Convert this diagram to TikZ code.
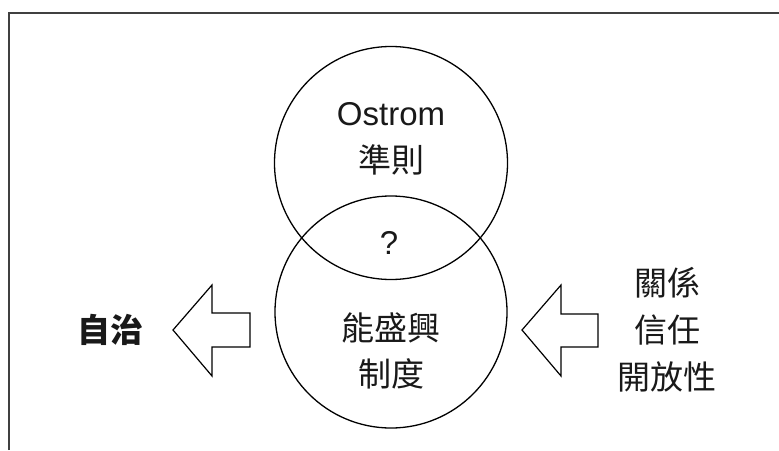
\documentclass[tikz,border=0pt]{standalone}
\usepackage{fontspec}
\setmainfont{Liberation Sans}
\newfontfamily\cjk{Noto Sans CJK TC}
\begin{document}
\begin{tikzpicture}[x=1pt,y=-1pt,
  lbl/.style={font=\fontsize{33}{46}\selectfont\cjk, align=center, inner sep=0pt, text=black!90},
  latin/.style={font=\fontsize{33}{46}\selectfont, inner sep=0pt, text=black!90},
  ring/.style={draw=black, line width=1.3pt},
  bigarrow/.style={draw=black, line width=1.2pt, line join=miter},
  frameline/.style={draw=black!75, line width=1.6pt}]
\useasboundingbox (0,0) rectangle (779,450);
% frame
\draw[frameline] (9,450) -- (9,13) -- (779,13);
% circles
\node[ring, circle, minimum size=233pt, inner sep=0pt] (top) at (391,163) {};
\node[ring, circle, minimum size=232pt, inner sep=0pt] (bot) at (391,312) {};
% texts
\node[latin] (ostrom) at (391,114) {Ostrom};
\node[lbl] (rule) at (391,160) {準則};
\node[latin] (q) at (389,243) {?};
\node[lbl] (inst) at (391,351) {能盛興\\制度};
\node[lbl, font=\fontsize{33}{46}\selectfont\cjk\bfseries] (auto) at (110,330) {自治};
\node[lbl, font=\fontsize{33}{47}\selectfont\cjk] (rel) at (667,330) {關係\\信任\\開放性};
% arrows
\draw[bigarrow] (173,330) -- (212,285) -- (212,313) -- (250,313) -- (250,347) -- (212,347) -- (212,376) -- cycle;
\draw[bigarrow] (522,330) -- (561,285) -- (561,314) -- (598,314) -- (598,347) -- (561,347) -- (561,376) -- cycle;
\end{tikzpicture}
\end{document}
